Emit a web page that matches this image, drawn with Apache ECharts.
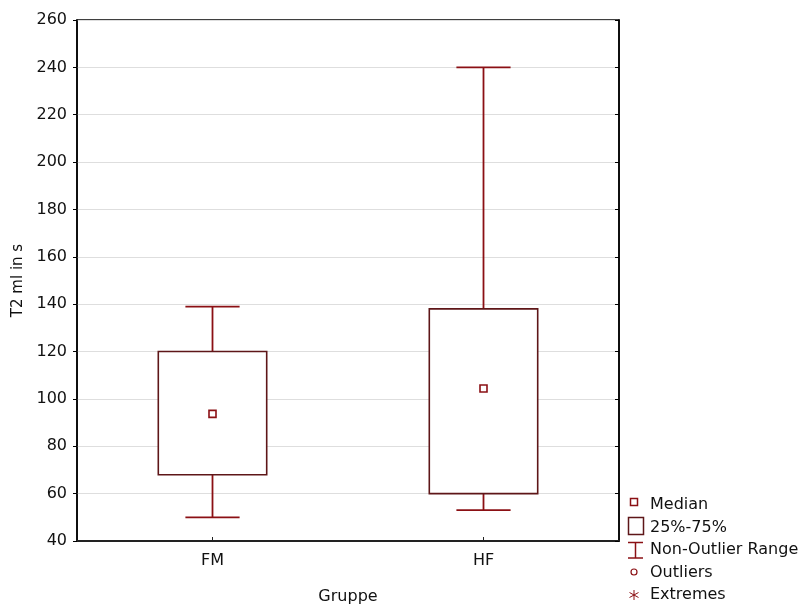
<!DOCTYPE html>
<html>
<head>
<meta charset="utf-8">
<script src="https://cdn.jsdelivr.net/npm/echarts@6/dist/echarts.min.js"></script>
<style>
  html, body { margin: 0; padding: 0; background: #fff; }
  #chart { width: 807px; height: 610px; }
</style>
</head>
<body>
<div id="chart"></div>
<script>
// Daten
const categories = ['FM', 'HF'];
const lowWhisker = [50, 53];
const q1Values = [68, 60];
const medians = [93.7, 104.4];
const q3Values = [120, 138];
const highWhisker = [139, 240];
const yTicks = [40, 60, 80, 100, 120, 140, 160, 180, 200, 220, 240, 260];

const boxColor = '#5e1618';
const whiskerColor = '#8b1014';
const fontFamily = '"DejaVu Sans", "Liberation Sans", Arial, sans-serif';

const myChart = echarts.init(document.getElementById('chart'));

const boxData = categories.map((c, i) => [i, lowWhisker[i], q1Values[i], medians[i], q3Values[i], highWhisker[i]]);

// Legende (rechts unten)
const legendItems = ['Median', '25%-75%', 'Non-Outlier Range', 'Outliers', 'Extremes'];
const legendY = [505, 527.5, 550, 573, 595];
const legendGraphics = [];
legendItems.forEach((t, i) => {
  legendGraphics.push({
    type: 'text', x: 650, y: legendY[i],
    style: { text: t, fill: '#111', font: '16px ' + fontFamily, verticalAlign: 'middle' }
  });
});
legendGraphics.push(
  { type: 'rect', shape: { x: 630.5, y: 498.5, width: 7, height: 7 }, style: { fill: '#fff', stroke: whiskerColor, lineWidth: 1.5 } },
  { type: 'rect', shape: { x: 628.5, y: 517.5, width: 15, height: 17 }, style: { fill: '#fff', stroke: boxColor, lineWidth: 1.5 } },
  { type: 'polyline', shape: { points: [[628, 542.5], [643, 542.5]] }, style: { stroke: whiskerColor, lineWidth: 1.5 } },
  { type: 'polyline', shape: { points: [[635.5, 542.5], [635.5, 558]] }, style: { stroke: whiskerColor, lineWidth: 1.5 } },
  { type: 'polyline', shape: { points: [[628, 558], [643, 558]] }, style: { stroke: whiskerColor, lineWidth: 1.5 } },
  { type: 'circle', shape: { cx: 634, cy: 572, r: 3 }, style: { fill: '#fff', stroke: whiskerColor, lineWidth: 1.2 } },
  { type: 'polyline', shape: { points: [[634, 590], [634, 600]] }, style: { stroke: whiskerColor, lineWidth: 1 } },
  { type: 'polyline', shape: { points: [[629.5, 592.5], [638.5, 597.5]] }, style: { stroke: whiskerColor, lineWidth: 1 } },
  { type: 'polyline', shape: { points: [[629.5, 597.5], [638.5, 592.5]] }, style: { stroke: whiskerColor, lineWidth: 1 } }
);

const option = {
  animation: false,
  backgroundColor: '#fff',
  textStyle: { fontFamily: fontFamily },
  grid: {
    left: 77, right: 188, top: 20, bottom: 68,
    show: true, borderColor: '#000', borderWidth: 1.5
  },
  graphic: legendGraphics,
  xAxis: {
    type: 'category',
    data: categories,
    boundaryGap: true,
    name: 'Gruppe',
    nameLocation: 'middle',
    nameGap: 48,
    nameTextStyle: { fontSize: 16, color: '#111' },
    axisLine: { show: true, lineStyle: { color: '#222', width: 2 } },
    axisTick: { show: true, inside: true, alignWithLabel: true, length: 4, lineStyle: { color: '#222' } },
    axisLabel: { fontSize: 16, color: '#111', margin: 12 },
    splitLine: { show: false }
  },
  yAxis: [
    {
      type: 'value',
      min: 40, max: 260, interval: 20,
      name: 'T2 ml in s',
      nameLocation: 'middle',
      nameGap: 47,
      nameTextStyle: { fontSize: 15, color: '#111' },
      axisLine: { show: true, lineStyle: { color: '#000', width: 1.5 } },
      axisTick: { show: true, length: 4, lineStyle: { color: '#000' } },
      axisLabel: {
        fontSize: 16, color: '#111', margin: 10,
        formatter: v => (yTicks.indexOf(v) >= 0 ? String(v) : '')
      },
      splitLine: { show: true, lineStyle: { color: '#dedede', width: 1 } }
    },
    {
      type: 'value',
      position: 'right',
      min: 40, max: 260, interval: 20,
      axisLine: { show: true, lineStyle: { color: '#000', width: 1.5 } },
      axisTick: { show: true, inside: true, length: 4, lineStyle: { color: '#000' } },
      axisLabel: { show: false },
      splitLine: { show: false }
    }
  ],
  series: [
    {
      type: 'custom',
      data: boxData,
      encode: { x: 0, y: [1, 2, 3, 4, 5] },
      renderItem: (params, api) => {
        const idx = api.value(0);
        const band = api.size([1, 0])[0];
        const boxW = band * 0.4;
        const capW = band * 0.2;
        const pLow = api.coord([idx, api.value(1)]);
        const pQ1 = api.coord([idx, api.value(2)]);
        const pMed = api.coord([idx, api.value(3)]);
        const pQ3 = api.coord([idx, api.value(4)]);
        const pHigh = api.coord([idx, api.value(5)]);
        const cx = pMed[0];
        const wStyle = { stroke: whiskerColor, lineWidth: 1.8, fill: null };
        return {
          type: 'group',
          children: [
            { type: 'line', shape: { x1: cx, y1: pQ3[1], x2: cx, y2: pHigh[1] }, style: wStyle },
            { type: 'line', shape: { x1: cx - capW / 2, y1: pHigh[1], x2: cx + capW / 2, y2: pHigh[1] }, style: wStyle },
            { type: 'line', shape: { x1: cx, y1: pQ1[1], x2: cx, y2: pLow[1] }, style: wStyle },
            { type: 'line', shape: { x1: cx - capW / 2, y1: pLow[1], x2: cx + capW / 2, y2: pLow[1] }, style: wStyle },
            {
              type: 'rect',
              shape: { x: cx - boxW / 2, y: pQ3[1], width: boxW, height: pQ1[1] - pQ3[1] },
              style: { fill: '#fff', stroke: boxColor, lineWidth: 1.6 }
            },
            {
              type: 'rect',
              shape: { x: cx - 3.5, y: pMed[1] - 3.5, width: 7, height: 7 },
              style: { fill: '#fff', stroke: whiskerColor, lineWidth: 1.6 }
            }
          ]
        };
      }
    }
  ]
};

myChart.setOption(option);
</script>
</body>
</html>
